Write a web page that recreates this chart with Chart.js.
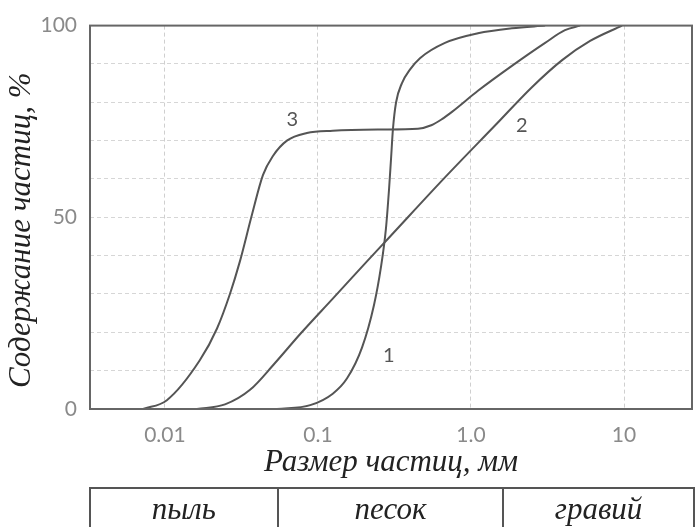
<!DOCTYPE html>
<html>
<head>
<meta charset="utf-8">
<script src="https://cdn.jsdelivr.net/npm/chart.js@4.4.1/dist/chart.umd.min.js"></script>
<style>
  body { margin: 0; background: #fff; }
  #wrap { position: relative; width: 695px; height: 527px; overflow: hidden; }
  #fractions {
    position: absolute; left: 89px; top: 487px;
    border-collapse: collapse; table-layout: fixed;
  }
  #fractions td {
    border: 2px solid #555; height: 50px; padding: 5px 0 0 0;
    vertical-align: top; text-align: center;
    font: italic 31px "Liberation Serif", serif; line-height: 30px; color: #222;
  }
</style>
</head>
<body>
<div id="wrap">
  <canvas id="grainChart" width="695" height="527"></canvas>
  <table id="fractions"><tr id="fractionRow"></tr></table>
</div>
<script>
// particle size, mm  /  cumulative content, %
const curve1Size = [0.054, 0.089, 0.125, 0.155, 0.194, 0.232, 0.258, 0.278, 0.291, 0.300, 0.309, 0.324, 0.354, 0.399, 0.464, 0.676, 1.11, 1.85, 3.05];
const curve1Pct  = [0, 1, 4, 8, 16, 27, 37, 47, 57, 65, 73, 80, 85, 88.5, 91.5, 95.5, 98, 99.3, 100];

const curve2Size = [0.0162, 0.0247, 0.036, 0.0524, 0.0763, 0.125, 0.209, 0.287, 0.676, 1.44, 2.51, 3.94, 6.0, 9.7];
const curve2Pct  = [0, 1.2, 5, 12, 19.5, 28.8, 38.5, 44.4, 60.4, 74, 84, 91, 96, 100];

const curve3Size = [0.0072, 0.0103, 0.0169, 0.0219, 0.0266, 0.0309, 0.037, 0.0437, 0.0508, 0.0627, 0.0847, 0.125, 0.254, 0.45, 0.55, 0.646, 0.751, 1.11, 1.85, 3.05, 4.11, 5.16];
const curve3Pct  = [0, 2.3, 12.7, 21, 30, 38.5, 50.6, 61, 66, 70, 72, 72.6, 72.9, 73.1, 74, 75.6, 77.5, 83, 89.5, 95.5, 98.8, 100];

const xTickValues = [0.01, 0.1, 1, 10];
const xTickLabels = ['0.01', '0.1', '1.0', '10'];
const yTickLabels = [0, 50, 100];
const curveNames = ['1', '2', '3'];
const fractionNames = ['пыль', 'песок', 'гравий'];
const xTitle = 'Размер частиц, мм';
const yTitle = 'Содержание частиц, %';

// where the curve numbers sit (data units)
const nameAtX = [0.29, 2.15, 0.068];
const nameAtY = [14, 74, 75.5];

function toPoints(xs, ys) {
  return xs.map((v, i) => ({ x: v, y: ys[i] }));
}

const curveStyle = {
  showLine: true, pointRadius: 0, borderColor: '#555', borderWidth: 2,
  cubicInterpolationMode: 'monotone', fill: false
};

const titleFont = 'italic 31px "Liberation Serif"';

const frameAndNames = {
  id: 'frameAndNames',
  afterDatasetsDraw(chart) {
    const { ctx, chartArea: a, scales: { x, y } } = chart;
    ctx.save();
    ctx.strokeStyle = '#666';
    ctx.lineWidth = 2;
    ctx.strokeRect(a.left, a.top, a.right - a.left, a.bottom - a.top);
    ctx.font = '20px Lato';
    ctx.fillStyle = '#555';
    ctx.textAlign = 'center';
    ctx.textBaseline = 'middle';
    curveNames.forEach((n, i) => {
      ctx.fillText(n, x.getPixelForValue(nameAtX[i]), y.getPixelForValue(nameAtY[i]));
    });
    // y axis title, a bit below the middle of the axis as in the original
    ctx.font = titleFont;
    ctx.fillStyle = '#222';
    ctx.translate(22, (a.top + a.bottom) / 2 + 13);
    ctx.rotate(-Math.PI / 2);
    ctx.fillText(yTitle, 0, 0);
    ctx.restore();
  }
};

new Chart(document.getElementById('grainChart'), {
  type: 'scatter',
  data: {
    datasets: [
      { label: '1', data: toPoints(curve1Size, curve1Pct), ...curveStyle },
      { label: '2', data: toPoints(curve2Size, curve2Pct), ...curveStyle },
      { label: '3', data: toPoints(curve3Size, curve3Pct), ...curveStyle }
    ]
  },
  options: {
    responsive: false,
    animation: false,
    layout: { padding: { top: 22, right: 3, left: 0, bottom: 0 } },
    plugins: { legend: { display: false }, tooltip: { enabled: false } },
    scales: {
      x: {
        type: 'logarithmic',
        min: 0.00324,
        max: 27.8,
        afterBuildTicks: s => { s.ticks = xTickValues.map(v => ({ value: v })); },
        afterFit: s => { s.height = 118; },
        ticks: {
          padding: 14,
          color: '#8a8a8a',
          font: { family: 'Lato', size: 21 },
          callback: v => { const i = xTickValues.indexOf(v); return i < 0 ? '' : xTickLabels[i]; }
        },
        grid: { color: '#cfcfcf', lineWidth: 1, drawTicks: false },
        border: { display: false, dash: [4, 3] },
        title: {
          display: true, text: xTitle, color: '#222',
          font: { family: 'Liberation Serif', style: 'italic', size: 31 },
          padding: { top: 0, bottom: 46 }
        }
      },
      y: {
        min: 0,
        max: 100,
        afterFit: s => { s.width = 90; },
        ticks: {
          stepSize: 10,
          padding: 13,
          color: '#8a8a8a',
          font: { family: 'Lato', size: 21 },
          callback: v => yTickLabels.includes(v) ? String(v) : ''
        },
        grid: { color: '#d6d6d6', lineWidth: 1, drawTicks: false },
        border: { display: false, dash: [4, 3] }
      }
    }
  },
  plugins: [frameAndNames]
});

const widths = [192, 231, 194];
const row = document.getElementById('fractionRow');
fractionNames.forEach((name, i) => {
  const td = document.createElement('td');
  td.style.width = widths[i] + 'px';
  td.textContent = name;
  row.appendChild(td);
});
</script>
</body>
</html>
